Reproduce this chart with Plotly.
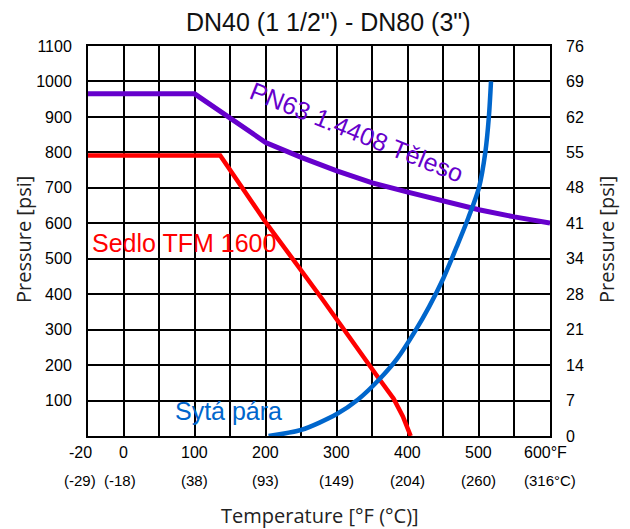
import plotly.graph_objects as go

# ---------------- data ----------------
title_text = 'DN40 (1 1/2") - DN80 (3")'

body_temp_f = [-50, 100, 200, 250, 300, 350, 400, 450, 500, 550, 600]
body_psi = [965, 965, 828, 786, 748, 714, 688, 662, 638, 618, 601]

seat_temp_f = [-50, 136, 200, 280, 360, 380, 393, 404]
seat_psi = [791, 791, 603, 385, 160, 105, 55, 0]

steam_temp_f = [204, 250, 300, 330, 360, 385, 410, 430, 450, 470, 485, 500, 509, 514, 517]
steam_psi = [0, 17, 62, 103, 160, 218, 295, 365, 445, 540, 615, 700, 800, 900, 1000]

x_tick_pos = [-50, 0, 100, 200, 300, 400, 500, 600]
x_tick_f = ["-20", "0", "100", "200", "300", "400", "500", "600°F"]
x_tick_c = ["(-29)", "(-18)", "(38)", "(93)", "(149)", "(204)", "(260)", "(316°C)"]

psi_ticks = [0, 100, 200, 300, 400, 500, 600, 700, 800, 900, 1000, 1100]
psi_text = ["", "100", "200", "300", "400", "500", "600", "700", "800", "900", "1000", "1100"]
bar_text = ["0", "7", "14", "21", "28", "34", "41", "48", "55", "62", "69", "76"]

label_body = "PN63 1.4408 Těleso"
label_seat = "Sedlo TFM 1600"
label_steam = "Sytá pára"

# ---------------- styles ----------------
PURPLE = "#6600CC"
RED = "#FF0000"
BLUE = "#0066CC"
NUM_FONT = "Arial, Liberation Sans, sans-serif"
TITLE_FONT = "Open Sans, Noto Sans, sans-serif"
TITLE_COLOR = "#222"

# per-label horizontal nudges (px) for the bottom labels
f_shift = {"-20": -8, "600°F": -5}
c_shift = {"(-29)": -8, "(-18)": -4}

fig = go.Figure()
fig.add_trace(go.Scatter(x=body_temp_f, y=body_psi, mode="lines",
                         line=dict(color=PURPLE, width=5), showlegend=False))
fig.add_trace(go.Scatter(x=seat_temp_f, y=seat_psi, mode="lines",
                         line=dict(color=RED, width=4.5), showlegend=False))
fig.add_trace(go.Scatter(x=steam_temp_f, y=steam_psi, mode="lines", yaxis="y2",
                         line=dict(color=BLUE, width=4.5, shape="spline", smoothing=0.8),
                         showlegend=False))

annotations = []
for pos, tf, tc in zip(x_tick_pos, x_tick_f, x_tick_c):
    annotations.append(dict(x=pos, y=0, xref="x", yref="paper", text=tf, showarrow=False,
                            xanchor="center", yanchor="middle", yshift=-16,
                            xshift=f_shift.get(tf, 0),
                            font=dict(family=NUM_FONT, size=16, color="black")))
    annotations.append(dict(x=pos, y=0, xref="x", yref="paper", text=tc, showarrow=False,
                            xanchor="center", yanchor="middle", yshift=-44,
                            xshift=c_shift.get(tc, 0),
                            font=dict(family=NUM_FONT, size=15, color="black")))

# axis titles and chart title
annotations += [
    dict(x=0.5195, y=1.0615, xref="paper", yref="paper", text=title_text, showarrow=False,
         xanchor="center", yanchor="middle", font=dict(family=NUM_FONT, size=25, color="#111")),
    dict(x=-0.1385, y=0.5026, xref="paper", yref="paper", text="Pressure [psi]", showarrow=False,
         textangle=-90, xanchor="center", yanchor="middle",
         font=dict(family=TITLE_FONT, size=20, color=TITLE_COLOR)),
    dict(x=1.1234, y=0.5026, xref="paper", yref="paper", text="Pressure [psi]", showarrow=False,
         textangle=-90, xanchor="center", yanchor="middle",
         font=dict(family=TITLE_FONT, size=20, color=TITLE_COLOR)),
    dict(x=0.502, y=-0.2026, xref="paper", yref="paper", text="Temperature [°F (°C)]",
         showarrow=False, xanchor="center", yanchor="middle",
         font=dict(family=TITLE_FONT, size=20, color=TITLE_COLOR)),
    # series labels
    dict(x=-46.8, y=544, xref="x", yref="y", text=label_seat, showarrow=False,
         xanchor="left", yanchor="middle", font=dict(family=NUM_FONT, size=25, color=RED)),
    dict(x=69.5, y=70, xref="x", yref="y", text=label_steam, showarrow=False,
         xanchor="left", yanchor="middle", font=dict(family=NUM_FONT, size=25, color=BLUE)),
    dict(x=328, y=857, xref="x", yref="y", text=label_body, showarrow=False, textangle=22,
         xanchor="center", yanchor="middle", font=dict(family=NUM_FONT, size=25, color=PURPLE)),
]

fig.update_layout(
    width=622, height=521,
    margin=dict(l=80, r=80, t=38, b=93),
    paper_bgcolor="white", plot_bgcolor="white",
    xaxis=dict(range=[-50, 600], tick0=0, dtick=50, showgrid=True, gridcolor="black",
               gridwidth=2, showticklabels=False, ticks="", zeroline=False,
               showline=True, mirror=True, linecolor="black", linewidth=2),
    yaxis=dict(range=[0, 1100], tickvals=psi_ticks, ticktext=psi_text, showgrid=True,
               gridcolor="black", gridwidth=2, ticks="", zeroline=False,
               showline=True, mirror=True, linecolor="black", linewidth=2,
               ticklabelstandoff=11,
               tickfont=dict(family=NUM_FONT, size=16, color="black")),
    yaxis2=dict(range=[0, 1100], overlaying="y", side="right", tickvals=psi_ticks,
                ticktext=bar_text, showgrid=False, zeroline=False, ticks="",
                showline=False, ticklabelstandoff=15,
                tickfont=dict(family=NUM_FONT, size=16, color="black")),
    annotations=annotations,
)

fig.write_html("out.html")
